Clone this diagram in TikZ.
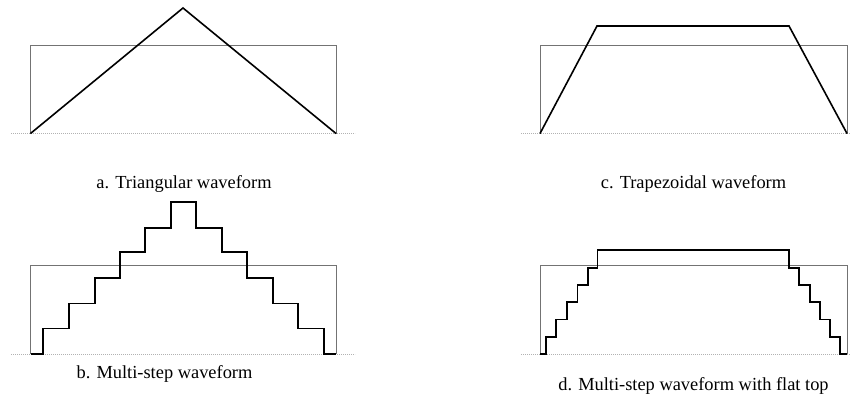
\documentclass[tikz,border=0pt]{standalone}
\usepackage{fontspec}
\setmainfont{Liberation Serif}
\begin{document}
\begin{tikzpicture}[x=1pt,y=-1pt,
  wave/.style={draw=black,line width=1.6pt,line join=miter},
  frame/.style={draw=black!55,line width=0.8pt},
  base/.style={draw=black!30,line width=0.6pt,dash pattern=on 1.2pt off 0.8pt},
  captxt/.style={font=\fontsize{18.4}{20}\selectfont,inner sep=0pt,anchor=base}]
\useasboundingbox (0,0) rectangle (851,396);
% panel a
\draw[base] (11,133.5) -- (355,133.5);
\draw[frame] (30.5,133.5) -- (30.5,45) -- (336,45) -- (336,133.5);
\coordinate (a1) at (30.5,133.5);
\coordinate (a2) at (183,8);
\coordinate (a3) at (336,133.5);
\draw[wave] (a1) -- (a2) -- (a3);
\node[captxt] (capa) at (184,188) {a. Triangular waveform};
% panel c
\draw[base] (521,133.5) -- (851,133.5);
\draw[frame] (540,133.5) -- (540,45.5) -- (847,45.5) -- (847,133.5);
\coordinate (c1) at (540,133.5);
\coordinate (c2) at (597,26);
\coordinate (c3) at (789,26);
\coordinate (c4) at (847,133.5);
\draw[wave] (c1) -- (c2) -- (c3) -- (c4);
\node[captxt] (capc) at (693.5,188) {c. Trapezoidal waveform};
% panel b
\draw[base] (11,354) -- (355,354);
\draw[frame] (30.5,354) -- (30.5,265.3) -- (336,265.3) -- (336,354);
\draw[wave] (30.5,354) -- (43,354) |- (69,328.3) |- (94.7,303.3) |- (119.7,277.7)
  |- (145,251.7) |- (171,227.7) |- (196,201.7) |- (221.7,227.7) |- (247,251.7)
  |- (273,277.7) |- (298,303.3) |- (323.7,328.3) |- (336,354);
\node[captxt] (capb) at (164.5,378) {b. Multi-step waveform};
% panel d
\draw[base] (521,354) -- (851,354);
\draw[frame] (540,354) -- (540,265.3) -- (847,265.3) -- (847,354);
\draw[wave] (540,354) -- (545.7,354) |- (556,336.7) |- (566.7,319.3) |- (577.3,301.7)
  |- (587.7,285) |- (597.3,267.7) |- (788.7,250) |- (799,267.7) |- (810,285)
  |- (820,301.7) |- (830,319.3) |- (840,336.7) |- (847,354);
\node[captxt] (capd) at (693.5,390.5) {d. Multi-step waveform with flat top};
\end{tikzpicture}
\end{document}
